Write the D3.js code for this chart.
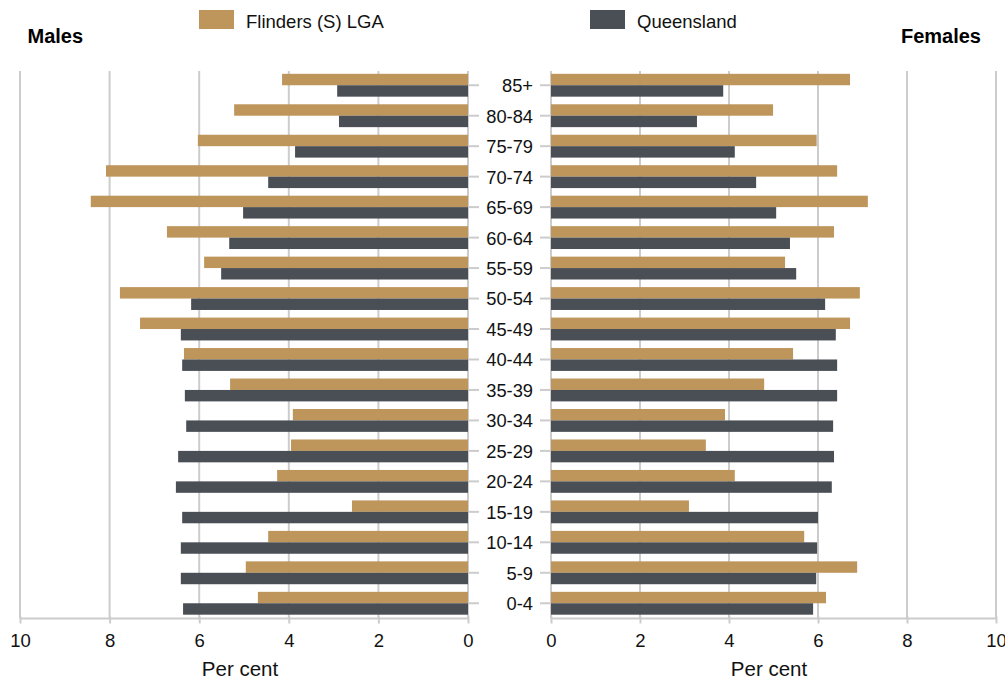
<!DOCTYPE html>
<html>
<head>
<meta charset="utf-8">
<script src="https://cdn.jsdelivr.net/npm/d3@7/dist/d3.min.js"></script>
<style>
  html, body { margin: 0; padding: 0; background: #fff; }
  svg { display: block; font-family: "Liberation Sans", Arial, sans-serif; }
</style>
</head>
<body>
<svg id="chart" width="1005" height="681"></svg>
<script>
const ageGroups = ["85+","80-84","75-79","70-74","65-69","60-64","55-59","50-54","45-49","40-44","35-39","30-34","25-29","20-24","15-19","10-14","5-9","0-4"];
const seriesNames = ["Flinders (S) LGA", "Queensland"];
const seriesColors = ["#BE955A", "#4A4E55"];
const malesFlinders = [4.15,5.22,6.03,8.08,8.42,6.72,5.89,7.77,7.32,6.34,5.31,3.91,3.95,4.26,2.59,4.46,4.96,4.69];
const malesQueensland = [2.92,2.88,3.86,4.46,5.02,5.33,5.51,6.18,6.41,6.38,6.32,6.29,6.47,6.52,6.38,6.41,6.41,6.36];
const femalesFlinders = [6.72,4.99,5.97,6.43,7.12,6.36,5.26,6.94,6.72,5.44,4.79,3.91,3.48,4.13,3.10,5.69,6.88,6.18];
const femalesQueensland = [3.87,3.28,4.13,4.61,5.06,5.37,5.51,6.16,6.40,6.43,6.43,6.34,6.36,6.31,6.00,5.98,5.96,5.89];
const xTicks = [0,2,4,6,8,10];

const svg = d3.select("#chart");
const gridColor = "#cccccc";
const textColor = "#111111";

const y = d3.scaleBand().domain(ageGroups).range([70, 618.5]).paddingInner(0.25).paddingOuter(0.125);
const ySub = d3.scaleBand().domain(seriesNames).range([0, y.bandwidth()]);

const xL = d3.scaleLinear().domain([0, 10]).range([468, 20]);
const xR = d3.scaleLinear().domain([0, 10]).range([551, 996]);

const gridTop = 71, axisY = 618.5;

function panel(x, dataA, dataB, side) {
  const g = svg.append("g");
  g.selectAll("line.grid").data(xTicks).join("line")
    .attr("x1", d => x(d)).attr("x2", d => x(d))
    .attr("y1", gridTop).attr("y2", axisY)
    .attr("stroke", gridColor).attr("stroke-width", 2);
  [dataA, dataB].forEach((data, si) => {
    g.selectAll(null).data(data).join("rect")
      .attr("x", d => Math.min(x(0), x(d)))
      .attr("width", d => Math.abs(x(d) - x(0)))
      .attr("y", (d, i) => y(ageGroups[i]) + ySub(seriesNames[si]))
      .attr("height", ySub.bandwidth())
      .attr("fill", seriesColors[si]);
  });
  const axis = d3.axisBottom(x).tickValues(xTicks).tickSize(5).tickPadding(10).tickFormat(d3.format("d"));
  const ag = g.append("g").attr("transform", `translate(0,${axisY})`).call(axis);
  ag.select(".domain").attr("stroke", gridColor).attr("stroke-width", 2).attr("d", `M${x.range()[0]},0H${x.range()[1]}`);
  ag.selectAll(".tick line").attr("stroke", gridColor).attr("stroke-width", 2).attr("y1", -2);
  ag.selectAll(".tick text").attr("fill", textColor).style("font-size", "18.5px")
    .attr("font-family", "Liberation Sans, Arial, sans-serif");
  const yAxis = (side === "left" ? d3.axisRight(y) : d3.axisLeft(y)).tickSize(11).tickFormat("");
  const yg = g.append("g").attr("transform", `translate(${x(0)},0)`).call(yAxis);
  yg.select(".domain").remove();
  yg.selectAll(".tick line").attr("stroke", gridColor).attr("stroke-width", 2);
  g.append("text").attr("x", side === "left" ? 240 : 769).attr("y", 676)
    .attr("text-anchor", "middle").style("font-size", "20.5px").attr("fill", textColor).text("Per cent");
}

panel(xL, malesFlinders, malesQueensland, "left");
panel(xR, femalesFlinders, femalesQueensland, "right");

svg.append("g").selectAll("text").data(ageGroups).join("text")
  .attr("x", 533).attr("y", d => y(d) + y.bandwidth() / 2 + 0.5)
  .attr("dy", "0.35em").attr("text-anchor", "end")
  .style("font-size", "18.3px").attr("fill", textColor).text(d => d);

svg.append("text").attr("x", 27.5).attr("y", 43).style("font-size", "20px").style("font-weight", "bold")
  .attr("fill", "#000").text("Males");
svg.append("text").attr("x", 981).attr("y", 43).attr("text-anchor", "end").style("font-size", "20px").style("font-weight", "bold")
  .attr("fill", "#000").text("Females");

const legendX = [199, 590];
const lg = svg.append("g").selectAll("g").data(seriesNames).join("g")
  .attr("transform", (d, i) => `translate(${legendX[i]},10)`);
lg.append("rect").attr("width", 35).attr("height", 19).attr("fill", (d, i) => seriesColors[i]);
lg.append("text").attr("x", 47).attr("y", 17.5).style("font-size", "18.5px").attr("fill", textColor).text(d => d);
</script>
</body>
</html>
